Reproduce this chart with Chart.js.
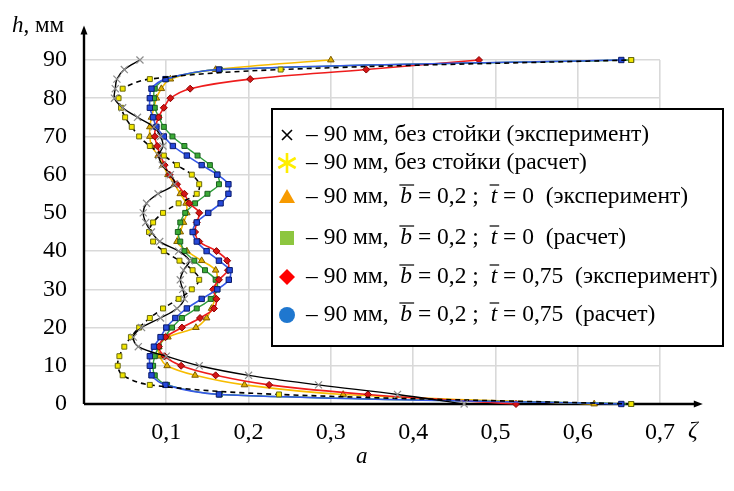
<!DOCTYPE html>
<html>
<head>
<meta charset="utf-8">
<script src="https://cdn.jsdelivr.net/npm/chart.js@4.4.1/dist/chart.umd.min.js"></script>
<style>
  body { margin: 0; background: #fff; }
  #wrap { position: relative; width: 734px; height: 491px; }
</style>
</head>
<body>
<div id="wrap"><canvas id="chart"></canvas></div>
<script>
const FONT = "'Liberation Serif', 'Times New Roman', serif";

// h, mm (vertical axis)
const heights = [0, 2.5, 5, 7.5, 10, 12.5, 15, 17.5, 20, 22.5, 25, 27.5, 30, 32.5, 35, 37.5, 40, 42.5, 45,
                 47.5, 50, 52.5, 55, 57.5, 60, 62.5, 65, 67.5, 70, 72.5, 75, 77.5, 80, 82.5, 85, 87.5, 90];

// zeta values, bottom to top
const noStandExp = [0.462, 0.381, 0.285, 0.200, 0.140, 0.100, 0.066, 0.060, 0.070, 0.093, 0.113, 0.122, 0.120, 0.117, 0.121, 0.128, 0.115, 0.092, 0.082,
                    0.075, 0.072, 0.076, 0.090, 0.110, 0.105, 0.095, 0.091, 0.096, 0.093, 0.085, 0.065, 0.047, 0.037, 0.038, 0.040, 0.049, 0.068];
const noStandCalc = [0.665, 0.237, 0.080, 0.047, 0.041, 0.043, 0.049, 0.057, 0.067, 0.080, 0.096, 0.115, 0.131, 0.140, 0.132, 0.116, 0.097, 0.084, 0.079,
                     0.084, 0.096, 0.115, 0.137, 0.140, 0.131, 0.113, 0.097, 0.080, 0.067, 0.058, 0.050, 0.045, 0.042, 0.047, 0.080, 0.239, 0.665];
const t0Exp = [0.620, 0.315, 0.195, 0.135, 0.101, 0.092, 0.091, 0.102, 0.136, 0.149, 0.155, 0.159, 0.160, 0.162, 0.160, 0.143, 0.125, 0.113, 0.117,
               0.121, 0.125, 0.124, 0.117, 0.110, 0.102, 0.096, 0.090, 0.082, 0.080, 0.080, 0.082, 0.085, 0.088, 0.094, 0.105, 0.160, 0.300];
const t0Calc = [0.665, 0.165, 0.101, 0.086, 0.084, 0.086, 0.091, 0.098, 0.107, 0.119, 0.137, 0.154, 0.162, 0.160, 0.147, 0.134, 0.122, 0.117, 0.114,
                0.117, 0.123, 0.135, 0.150, 0.164, 0.162, 0.153, 0.138, 0.122, 0.1075, 0.097, 0.091, 0.086, 0.085, 0.086, 0.100, 0.165, 0.665];
const t75Exp = [0.525, 0.345, 0.225, 0.160, 0.118, 0.098, 0.091, 0.099, 0.119, 0.141, 0.158, 0.161, 0.157, 0.164, 0.175, 0.174, 0.161, 0.140, 0.135,
                0.137, 0.140, 0.128, 0.122, 0.113, 0.104, 0.098, 0.093, 0.089, 0.086, 0.087, 0.0905, 0.097, 0.105, 0.129, 0.202, 0.343, 0.480];
const t75Calc = [0.653, 0.164, 0.099, 0.082, 0.080, 0.080, 0.085, 0.093, 0.100, 0.111, 0.125, 0.143, 0.162, 0.176, 0.177, 0.164, 0.149, 0.137, 0.132,
                 0.137, 0.151, 0.166, 0.1755, 0.1755, 0.162, 0.143, 0.125, 0.108, 0.097, 0.088, 0.084, 0.080, 0.080, 0.082, 0.099, 0.164, 0.653];

const xTicks = [0.1, 0.2, 0.3, 0.4, 0.5, 0.6, 0.7];
const yTicks = [0, 10, 20, 30, 40, 50, 60, 70, 80, 90];

// legend rows: [text, italic+overline]
const legendRows = [
  [["– 90 мм, без стойки (эксперимент)"]],
  [["– 90 мм, без стойки (расчет)"]],
  [["– 90 мм,  "], ["b", true], [" = 0,2 ;  "], ["t", true], [" = 0  (эксперимент)"]],
  [["– 90 мм,  "], ["b", true], [" = 0,2 ;  "], ["t", true], [" = 0  (расчет)"]],
  [["– 90 мм,  "], ["b", true], [" = 0,2 ;  "], ["t", true], [" = 0,75  (эксперимент)"]],
  [["– 90 мм,  "], ["b", true], [" = 0,2 ;  "], ["t", true], [" = 0,75  (расчет)"]]
];
const legendRowY = [135, 163, 197, 238, 277, 315];
const legendMarkers = ["cross", "star", "triangle", "square", "diamond", "circle"];

function points(values) {
  return heights.map((h, i) => ({ x: values[i], y: h }));
}

const datasets = [
  {
    data: points(noStandExp), borderColor: "#000", borderWidth: 1.4,
    pointStyle: "crossRot", pointRadius: 5, pointBorderColor: "#8c8c8c", pointBorderWidth: 1.2
  },
  {
    data: points(noStandCalc), borderColor: "#000", borderWidth: 1.6, borderDash: [5, 4],
    pointStyle: "rect", pointRadius: 3.5, pointBackgroundColor: "#f2e600", pointBorderColor: "#6b6b10", pointBorderWidth: 1
  },
  {
    data: points(t75Calc), borderColor: "#3558e6", borderWidth: 1.6,
    pointStyle: "rect", pointRadius: 3.8, pointBackgroundColor: "#2548d8", pointBorderColor: "#0a1a6a", pointBorderWidth: 1
  },
  {
    data: points(t75Exp), borderColor: "#ee1c1c", borderWidth: 1.6,
    pointStyle: "rectRot", pointRadius: 3.5, pointBackgroundColor: "#d41515", pointBorderColor: "#8b0000", pointBorderWidth: 1
  },
  {
    data: points(t0Calc), borderColor: "#2e9e3a", borderWidth: 1.4,
    pointStyle: "rect", pointRadius: 3.5, pointBackgroundColor: "#3aaa35", pointBorderColor: "#1b5e20", pointBorderWidth: 1
  },
  {
    data: points(t0Exp), borderColor: "#f7bc00", borderWidth: 1.6,
    pointStyle: "triangle", pointRadius: 3.8, pointBackgroundColor: "#e0b000", pointBorderColor: "#7a5a00", pointBorderWidth: 1
  }
].map(d => Object.assign({ showLine: true, fill: false, tension: 0.35, clip: false }, d));

function drawMarker(ctx, type, x, y) {
  ctx.save();
  if (type === "cross") {
    ctx.strokeStyle = "#000"; ctx.lineWidth = 1.6;
    ctx.beginPath();
    ctx.moveTo(x - 5, y - 5); ctx.lineTo(x + 5, y + 5);
    ctx.moveTo(x + 5, y - 5); ctx.lineTo(x - 5, y + 5);
    ctx.stroke();
  } else if (type === "star") {
    ctx.strokeStyle = "#ffee00"; ctx.lineWidth = 2.6;
    ctx.beginPath();
    for (let k = 0; k < 3; k++) {
      const a = Math.PI / 2 + k * Math.PI / 3;
      ctx.moveTo(x + 10 * Math.cos(a), y + 10 * Math.sin(a));
      ctx.lineTo(x - 10 * Math.cos(a), y - 10 * Math.sin(a));
    }
    ctx.stroke();
  } else if (type === "triangle") {
    ctx.fillStyle = "#f79a00";
    ctx.beginPath(); ctx.moveTo(x, y - 8); ctx.lineTo(x + 8, y + 6); ctx.lineTo(x - 8, y + 6); ctx.closePath(); ctx.fill();
  } else if (type === "square") {
    ctx.fillStyle = "#8dc63f";
    ctx.fillRect(x - 7, y - 7, 14, 14);
  } else if (type === "diamond") {
    ctx.fillStyle = "#ff0000";
    ctx.beginPath(); ctx.moveTo(x, y - 8); ctx.lineTo(x + 8, y); ctx.lineTo(x, y + 8); ctx.lineTo(x - 8, y); ctx.closePath(); ctx.fill();
  } else {
    ctx.fillStyle = "#1f77cf";
    ctx.beginPath(); ctx.arc(x, y, 8, 0, Math.PI * 2); ctx.fill();
  }
  ctx.restore();
}

const framePlugin = {
  id: "frame",
  beforeDatasetsDraw(chart) {
    const { ctx, scales: { x, y } } = chart;
    const x0 = x.getPixelForValue(0), y0 = y.getPixelForValue(0);
    const xEnd = x.getPixelForValue(0.752), yEnd = y.getPixelForValue(99);
    ctx.save();
    ctx.strokeStyle = "#000"; ctx.fillStyle = "#000"; ctx.lineWidth = 2.4;
    ctx.beginPath();
    ctx.moveTo(x0, y0); ctx.lineTo(xEnd - 6, y0);
    ctx.moveTo(x0, y0); ctx.lineTo(x0, yEnd + 6);
    ctx.stroke();
    ctx.beginPath(); ctx.moveTo(xEnd, y0); ctx.lineTo(xEnd - 9, y0 - 3.5); ctx.lineTo(xEnd - 9, y0 + 3.5); ctx.closePath(); ctx.fill();
    ctx.beginPath(); ctx.moveTo(x0, yEnd); ctx.lineTo(x0 - 3.5, yEnd + 9); ctx.lineTo(x0 + 3.5, yEnd + 9); ctx.closePath(); ctx.fill();
    ctx.restore();
  },
  afterDraw(chart) {
    const ctx = chart.ctx;
    ctx.save();
    // legend box
    ctx.fillStyle = "#fff";
    ctx.fillRect(272, 109, 451, 237);
    ctx.strokeStyle = "#000"; ctx.lineWidth = 2;
    ctx.strokeRect(272, 109, 451, 237);

    const size = 23.5;
    ctx.textBaseline = "middle";
    ctx.fillStyle = "#000";
    legendRows.forEach((row, r) => {
      const cy = legendRowY[r];
      drawMarker(ctx, legendMarkers[r], 287, cy);
      let cx = 306;
      row.forEach(([text, math]) => {
        ctx.font = (math ? "italic " : "") + size + "px " + FONT;
        ctx.fillText(text, cx, cy);
        const w = ctx.measureText(text).width;
        if (math) {
          ctx.lineWidth = 1.2;
          ctx.beginPath();
          ctx.moveTo(cx - 1, cy - 12); ctx.lineTo(cx + w + 2, cy - 12);
          ctx.stroke();
        }
        cx += w;
      });
    });

    // axis titles and caption
    ctx.textBaseline = "middle";
    ctx.font = "italic 23px " + FONT;
    ctx.fillText("h", 12, 26);
    const hw = ctx.measureText("h").width;
    ctx.font = "23px " + FONT;
    ctx.fillText(", мм", 12 + hw, 26);
    ctx.font = "italic 24px " + FONT;
    ctx.fillText("ζ", 688, 431);
    ctx.font = "italic 23px " + FONT;
    ctx.fillText("а", 356, 457);
    ctx.restore();
  }
};

new Chart(document.getElementById("chart"), {
  type: "scatter",
  data: { datasets },
  options: {
    responsive: true,
    maintainAspectRatio: false,
    animation: false,
    layout: { padding: { left: 0, right: 74, top: 60, bottom: 0 } },
    plugins: { legend: { display: false }, tooltip: { enabled: false } },
    scales: {
      x: {
        type: "linear", min: 0, max: 0.7,
        afterBuildTicks: s => { s.ticks = xTicks.map(v => ({ value: v })); },
        afterFit: s => { s.height = 87; },
        grid: { color: "#d9d9d9", lineWidth: 1.6, drawTicks: false },
        border: { display: false },
        ticks: {
          autoSkip: false, maxRotation: 0, padding: 14, color: "#000",
          font: { family: FONT, size: 24 },
          callback: v => v.toFixed(1).replace(".", ",")
        }
      },
      y: {
        type: "linear", min: 0, max: 90,
        afterBuildTicks: s => { s.ticks = yTicks.map(v => ({ value: v })); },
        afterFit: s => { s.width = 84; },
        grid: { color: "#d9d9d9", lineWidth: 1.6, drawTicks: false },
        border: { display: false },
        ticks: {
          autoSkip: false, padding: 17, color: "#000",
          font: { family: FONT, size: 24 },
          callback: v => String(v)
        }
      }
    }
  },
  plugins: [framePlugin]
});
</script>
</body>
</html>
